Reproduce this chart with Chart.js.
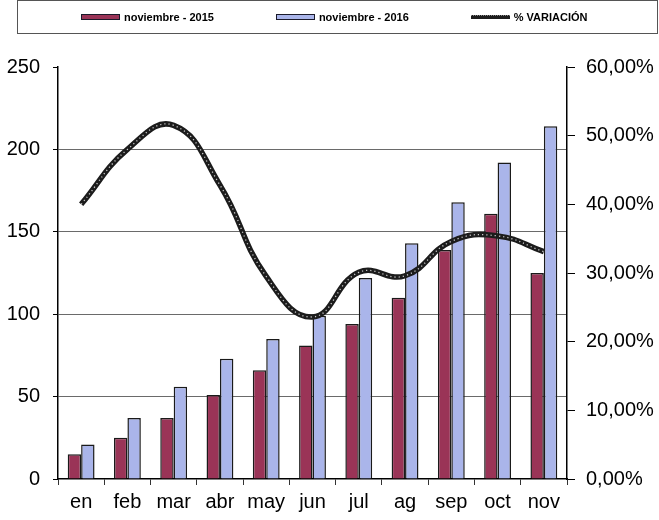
<!DOCTYPE html>
<html>
<head>
<meta charset="utf-8">
<script src="https://cdn.jsdelivr.net/npm/chart.js@4.4.1/dist/chart.umd.min.js"></script>
<style>
  html, body { margin: 0; padding: 0; background: #fff; }
  #wrap { position: relative; width: 659px; height: 520px; }
  #legend {
    position: absolute; left: 17px; top: 0px; width: 641px; height: 34px;
    box-sizing: border-box; border: 1px solid #555;
    display: flex; align-items: center; padding-left: 63px;
    font-family: "Liberation Sans", Arial, sans-serif; font-size: 11px; font-weight: bold; color: #000;
  }
  .item { display: flex; align-items: center; margin-right: 62px; }
  .sw { display: inline-block; width: 39px; height: 6px; box-sizing: border-box; margin-right: 4px; }
</style>
</head>
<body>
<div id="wrap">
  <canvas id="c" width="659" height="520"></canvas>
  <div id="legend"></div>
</div>
<script>
const categories = ["en", "feb", "mar", "abr", "may", "jun", "jul", "ag", "sep", "oct", "nov"];
const nov2015 = [15, 25, 37, 51, 66, 81, 94, 110, 139, 161, 125];
const nov2016 = [21, 37, 56, 73, 85, 99, 122, 143, 168, 192, 214];
const variacion = [40.0, 48.0, 51.5, 42.8, 29.5, 23.6, 30.1, 29.6, 34.6, 35.4, 33.1];
const seriesNames = ["noviembre - 2015", "noviembre - 2016", "% VARIACIÓN"];
const leftTicks = [0, 50, 100, 150, 200, 250];
const rightTicks = [0, 10, 20, 30, 40, 50, 60];

const FONT = '"Liberation Sans", Arial, sans-serif';

const htmlLegend = {
  id: 'htmlLegend',
  afterUpdate(chart) {
    const box = document.getElementById('legend');
    box.innerHTML = '';
    const items = Chart.defaults.plugins.legend.labels.generateLabels(chart)
      .filter(it => it.text)
      .sort((a, b) => a.datasetIndex - b.datasetIndex);
    items.forEach(it => {
      const el = document.createElement('div');
      el.className = 'item';
      const sw = document.createElement('span');
      sw.className = 'sw';
      const ds = chart.data.datasets[it.datasetIndex];
      if (ds.type === 'line') {
        sw.style.height = '4px';
        sw.style.background = ds.borderColor;
        sw.style.borderTop = '1px dotted #888';
      } else {
        sw.style.background = ds.backgroundColor;
        sw.style.border = '1.5px solid #1a1a2a';
      }
      const tx = document.createElement('span');
      tx.textContent = it.text;
      el.appendChild(sw);
      el.appendChild(tx);
      box.appendChild(el);
    });
  }
};

new Chart(document.getElementById('c'), {
  data: {
    labels: categories,
    datasets: [
      { type: 'bar', label: seriesNames[0], data: nov2015, backgroundColor: '#9a3457', borderColor: '#1a1a1a', borderWidth: 1.5, yAxisID: 'y', order: 2,
        categoryPercentage: 0.58, barPercentage: 1.0 },
      { type: 'bar', label: seriesNames[1], data: nov2016, backgroundColor: '#aab5ea', borderColor: '#1a1a1a', borderWidth: 1.5, yAxisID: 'y', order: 2,
        categoryPercentage: 0.58, barPercentage: 1.0 },
      { type: 'line', label: seriesNames[2], data: variacion, borderColor: '#1c1c1c', borderWidth: 5.5, tension: 0.45,
        pointRadius: 0, yAxisID: 'y2', order: 1, fill: false },
      { type: 'line', label: '', data: variacion, borderColor: 'rgba(235,235,235,0.85)', borderWidth: 1.3, borderDash: [1.2, 3],
        tension: 0.45, pointRadius: 0, yAxisID: 'y2', order: 0, fill: false }
    ]
  },
  options: {
    responsive: false,
    animation: false,
    layout: { padding: { top: 67, left: 0, right: 0, bottom: 0 } },
    plugins: { legend: { display: false }, tooltip: { enabled: false } },
    scales: {
      x: {
        offset: true,
        grid: { offset: true, drawOnChartArea: false, tickLength: 6, tickColor: '#333', lineWidth: 1 },
        border: { color: '#000', width: 1.5 },
        ticks: { color: '#000', font: { family: FONT, size: 20 }, padding: 5, maxRotation: 0 },
        afterFit(s) { s.height = 41; }
      },
      y: {
        position: 'left', min: 0, max: 250,
        afterBuildTicks(s) { s.ticks = leftTicks.map(v => ({ value: v })); },
        grid: {
          color: ctx => (ctx.tick && (ctx.tick.value === 0 || ctx.tick.value === 250)) ? 'rgba(0,0,0,0)' : '#6a6a6a',
          lineWidth: 1, tickLength: 5, tickColor: '#000'
        },
        border: { color: '#000', width: 1.5 },
        ticks: { color: '#000', font: { family: FONT, size: 20 }, padding: 13 },
        afterFit(s) { s.width = 58; }
      },
      y2: {
        position: 'right', min: 0, max: 60,
        afterBuildTicks(s) { s.ticks = rightTicks.map(v => ({ value: v })); },
        grid: { drawOnChartArea: false, tickLength: 8, tickColor: '#000' },
        border: { color: '#000', width: 1.5 },
        ticks: { color: '#000', font: { family: FONT, size: 20 }, padding: 11,
          callback: v => v.toFixed(2).replace('.', ',') + '%' },
        afterFit(s) { s.width = 92; }
      }
    }
  },
  plugins: [htmlLegend]
});
</script>
</body>
</html>
